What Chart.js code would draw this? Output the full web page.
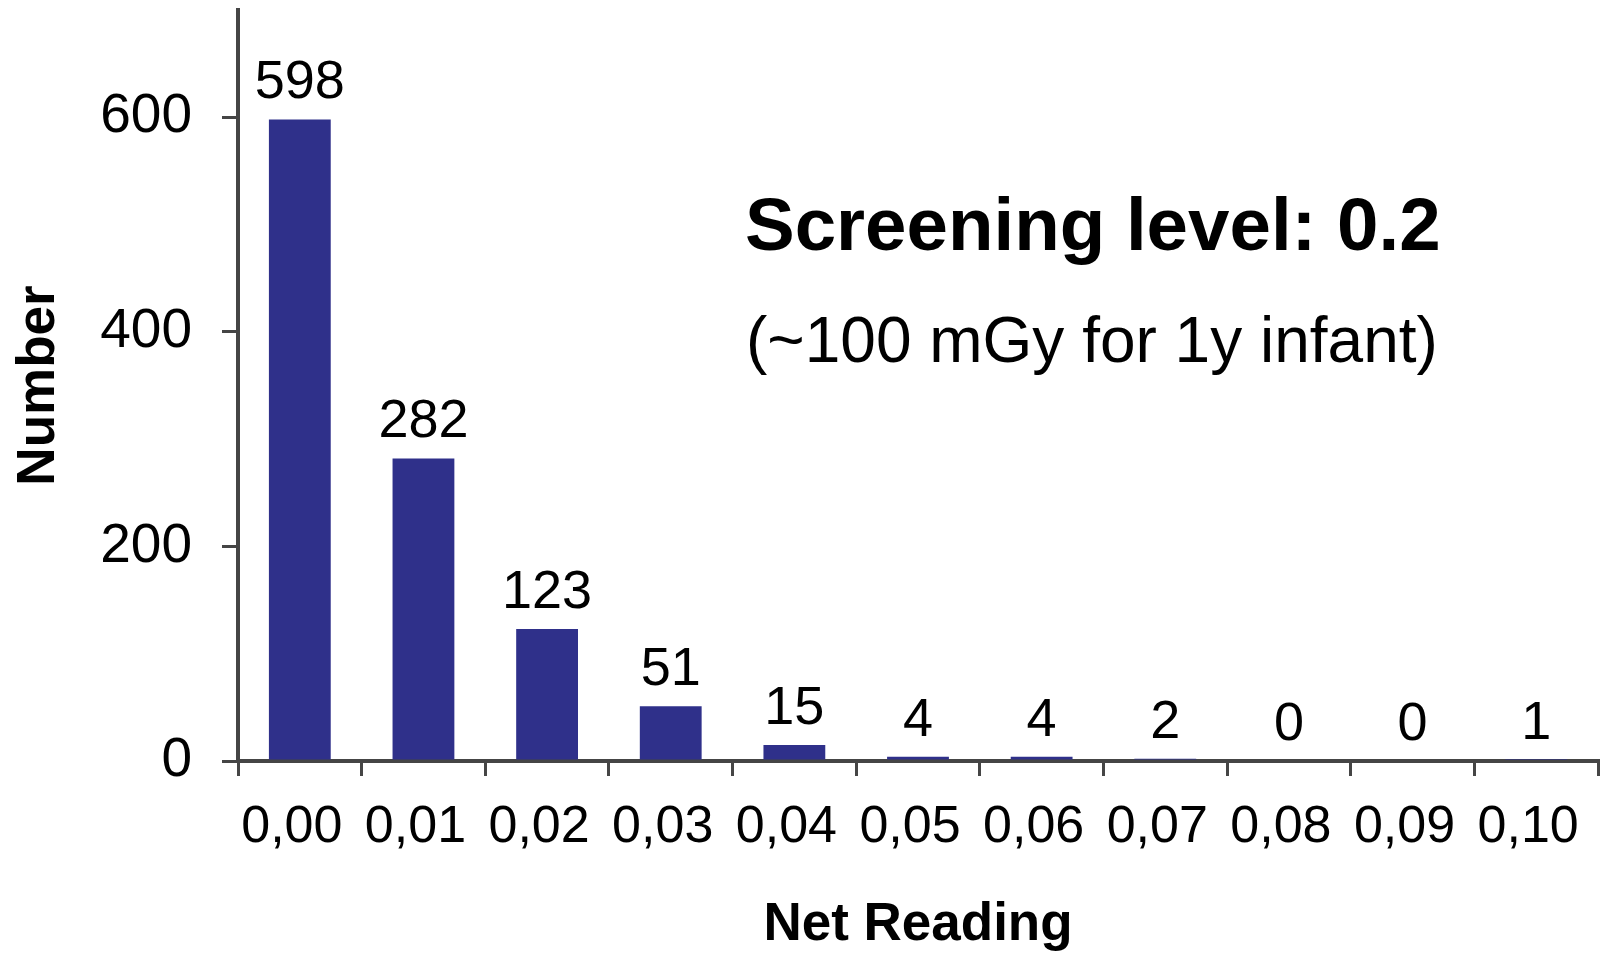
<!DOCTYPE html>
<html>
<head>
<meta charset="utf-8">
<script src="https://cdn.jsdelivr.net/npm/chart.js@4"></script>
<style>
  html, body { margin: 0; padding: 0; background: #ffffff; }
  #wrap { width: 1602px; height: 953px; position: relative; }
</style>
</head>
<body>
<div id="wrap"><canvas id="chart"></canvas></div>
<script>
// Histogram of net readings
const categories = ['0,00', '0,01', '0,02', '0,03', '0,04', '0,05', '0,06', '0,07', '0,08', '0,09', '0,10'];
const counts = [598, 282, 123, 51, 15, 4, 4, 2, 0, 0, 1];
const yTicks = [0, 200, 400, 600];
const headline = 'Screening level: 0.2';
const subline = '(~100 mGy for 1y infant)';

const FONT = '"Liberation Sans", Arial, sans-serif';
const AXIS = '#454545';

// Value labels above each bar, placed from the bar elements themselves
const valueLabels = {
  id: 'valueLabels',
  afterDatasetsDraw(chart) {
    const { ctx } = chart;
    const meta = chart.getDatasetMeta(0);
    ctx.save();
    ctx.font = '54px ' + FONT;
    ctx.fillStyle = '#000';
    ctx.textAlign = 'center';
    ctx.textBaseline = 'alphabetic';
    meta.data.forEach((bar, i) => {
      ctx.fillText(String(counts[i]), bar.x, bar.y - 21);
    });
    ctx.restore();
  }
};

// Annotation text in the upper right of the plot
const annotation = {
  id: 'annotation',
  afterDraw(chart) {
    const { ctx } = chart;
    ctx.save();
    ctx.fillStyle = '#000';
    ctx.textAlign = 'left';
    ctx.textBaseline = 'middle';
    ctx.font = 'bold 74.5px ' + FONT;
    ctx.fillText(headline, 745, 229);
    ctx.font = '64px ' + FONT;
    ctx.fillText(subline, 746, 344);
    ctx.restore();
  }
};

new Chart(document.getElementById('chart'), {
  type: 'bar',
  data: {
    labels: categories,
    datasets: [{
      data: counts,
      backgroundColor: '#2f308a',
      borderWidth: 0,
      barPercentage: 0.5,
      categoryPercentage: 1.0
    }]
  },
  options: {
    responsive: true,
    maintainAspectRatio: false,
    animation: false,
    layout: { padding: { top: 10, right: 4, left: 0, bottom: 0 } },
    plugins: {
      legend: { display: false },
      tooltip: { enabled: false }
    },
    scales: {
      x: {
        offset: true,
        grid: {
          offset: true,
          drawOnChartArea: false,
          drawTicks: true,
          tickLength: 15,
          color: AXIS,
          lineWidth: 3
        },
        border: { color: AXIS, width: 4 },
        ticks: {
          color: '#000',
          font: { family: FONT, size: 52 },
          padding: 20,
          labelOffset: -8,
          maxRotation: 0,
          autoSkip: false
        },
        title: {
          display: true,
          text: 'Net Reading',
          color: '#000',
          font: { family: FONT, size: 53, weight: 'bold', lineHeight: 1.05 },
          padding: { top: 35, bottom: 0 }
        },
        afterFit(scale) {
          scale.height = 953 - 761;
          scale.paddingLeft = 0;
          scale.paddingRight = 0;
        }
      },
      y: {
        min: 0,
        max: 700,
        afterBuildTicks(scale) {
          scale.ticks = yTicks.map(v => ({ value: v }));
        },
        grid: {
          drawOnChartArea: false,
          drawTicks: true,
          tickLength: 16,
          color: AXIS,
          lineWidth: 3
        },
        border: { color: AXIS, width: 4 },
        ticks: {
          color: '#000',
          font: { family: FONT, size: 55 },
          padding: 30
        },
        title: {
          display: true,
          text: 'Number',
          color: '#000',
          font: { family: FONT, size: 53, weight: 'bold' },
          padding: { top: 8, bottom: 0 }
        },
        afterFit(scale) {
          scale.width = 238;
          scale.paddingTop = 0;
          scale.paddingBottom = 0;
        }
      }
    }
  },
  plugins: [valueLabels, annotation]
});
</script>
</body>
</html>
